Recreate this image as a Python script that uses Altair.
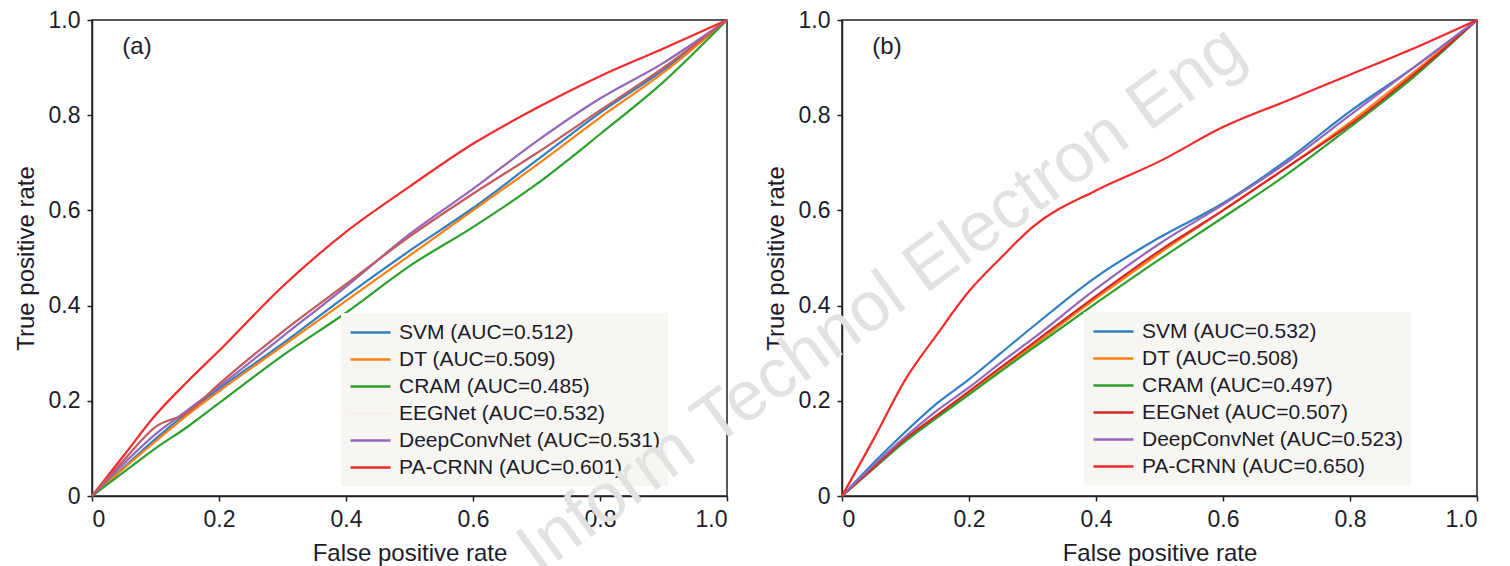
import altair as alt
import pandas as pd

# ---------------- data ----------------
MODELS = ["SVM", "DT", "CRAM", "EEGNet", "DeepConvNet", "PA-CRNN"]
AUC_A = ["0.512", "0.509", "0.485", "0.532", "0.531", "0.601"]
AUC_B = ["0.532", "0.508", "0.497", "0.507", "0.523", "0.650"]

TICKS = [0, 0.2, 0.4, 0.6, 0.8, 1.0]

FPR_A = [0, 0.05, 0.1, 0.15, 0.2, 0.3, 0.4, 0.5, 0.6, 0.7, 0.8, 0.9, 1.0]
TPR_A_SVM = [0, 0.06, 0.12, 0.175, 0.225, 0.32, 0.42, 0.515, 0.605, 0.705, 0.805, 0.895, 1.0]
TPR_A_DT = [0, 0.058, 0.115, 0.17, 0.22, 0.315, 0.41, 0.505, 0.6, 0.695, 0.795, 0.89, 1.0]
TPR_A_CRAM = [0, 0.05, 0.1, 0.145, 0.195, 0.295, 0.385, 0.483, 0.565, 0.655, 0.76, 0.87, 1.0]
TPR_A_EEGNET = [0, 0.075, 0.145, 0.175, 0.235, 0.345, 0.445, 0.545, 0.635, 0.72, 0.81, 0.9, 1.0]
TPR_A_DCN = [0, 0.068, 0.13, 0.18, 0.23, 0.335, 0.44, 0.55, 0.645, 0.745, 0.835, 0.91, 1.0]
TPR_A_PACRNN = [0, 0.085, 0.17, 0.24, 0.305, 0.44, 0.555, 0.65, 0.74, 0.815, 0.882, 0.94, 1.0]

FPR_B = [0, 0.05, 0.1, 0.15, 0.2, 0.25, 0.3, 0.4, 0.5, 0.6, 0.7, 0.8, 0.9, 1.0]
TPR_B_SVM = [0, 0.07, 0.135, 0.195, 0.245, 0.3, 0.355, 0.46, 0.543, 0.615, 0.705, 0.808, 0.9, 1.0]
TPR_B_DT = [0, 0.06, 0.12, 0.17, 0.215, 0.265, 0.315, 0.415, 0.51, 0.6, 0.69, 0.785, 0.89, 1.0]
TPR_B_CRAM = [0, 0.058, 0.115, 0.165, 0.213, 0.262, 0.31, 0.405, 0.497, 0.585, 0.675, 0.775, 0.88, 1.0]
TPR_B_EEGNET = [0, 0.06, 0.12, 0.17, 0.22, 0.27, 0.32, 0.42, 0.515, 0.6, 0.69, 0.78, 0.885, 1.0]
TPR_B_DCN = [0, 0.065, 0.125, 0.18, 0.228, 0.28, 0.33, 0.435, 0.53, 0.612, 0.7, 0.8, 0.9, 1.0]
TPR_B_PACRNN = [0, 0.12, 0.245, 0.34, 0.43, 0.5, 0.565, 0.642, 0.703, 0.775, 0.83, 0.885, 0.94, 1.0]

COLORS_A = ["#2f7fc1", "#ff7f0e", "#2ca02c", "#f4eeee", "#9467bd", "#f42a2a"]
EEG_LINE_A = "#c25a5e"
COLORS_B = ["#2f7fc1", "#ff7f0e", "#2ca02c", "#d62728", "#9467bd", "#f42a2a"]

WATERMARK = "Inform Technol Electron Eng"

FONT = "Liberation Sans"
TEXT = "#1c1c2a"


def build_df(fpr, series, aucs):
    rows = []
    for m, auc, tpr in zip(MODELS, aucs, series):
        lab = f"{m} (AUC={auc})"
        for i, (x, y) in enumerate(zip(fpr, tpr)):
            rows.append({"fpr": x, "tpr": y, "model": lab, "order": i})
    return pd.DataFrame(rows)


def panel(df, aucs, colors, tag, legend_x, legend_y, eeg_line=None, watermark=False):
    labels = [f"{m} (AUC={a})" for m, a in zip(MODELS, aucs)]
    lab_expr = "datum.value == 0 ? '0' : format(datum.value, '.1f')"
    x = alt.X("fpr:Q", scale=alt.Scale(domain=[0, 1], nice=False),
              axis=alt.Axis(values=TICKS, labelExpr=lab_expr, title="False positive rate"))
    y = alt.Y("tpr:Q", scale=alt.Scale(domain=[0, 1], nice=False),
              axis=alt.Axis(values=TICKS, labelExpr=lab_expr, title="True positive rate"))
    color = alt.Color(
        "model:N",
        scale=alt.Scale(domain=labels, range=colors),
        sort=labels,
        legend=alt.Legend(
            title=None, orient="none", legendX=legend_x, legendY=legend_y,
            fillColor="#f8f6f3", padding=8,
            symbolType="M-1,0H3", symbolSize=400, symbolStrokeWidth=2.5,
            labelFontSize=21, labelFont=FONT, labelColor=TEXT,
            labelOffset=27, rowPadding=5, labelLimit=500,
        ),
    )
    base = alt.Chart(df)
    main = base
    if eeg_line is not None:
        main = base.transform_filter(alt.datum.model != labels[3])
    layers = [
        main.mark_line(strokeWidth=2.2, interpolate="monotone").encode(
            x=x, y=y, color=color, order="order:Q")
    ]
    if eeg_line is not None:
        layers.append(
            base.transform_filter(alt.datum.model == labels[3])
            .mark_line(strokeWidth=2.2, interpolate="monotone", color=eeg_line)
            .encode(x="fpr:Q", y="tpr:Q", order="order:Q")
        )
    layers.append(
        alt.Chart(pd.DataFrame({"tag": [tag]})).mark_text(
            fontSize=24, font=FONT, color=TEXT, align="center", baseline="middle"
        ).encode(text="tag:N", x=alt.value(45), y=alt.value(27))
    )
    if watermark:
        layers.append(
            alt.Chart(pd.DataFrame({"wm": [WATERMARK]})).mark_text(
                fontSize=70, font=FONT, color="#e2e2e2", angle=324,
                align="center", baseline="alphabetic"
            ).encode(text="wm:N", x=alt.value(52), y=alt.value(297))
        )
    return alt.layer(*layers).properties(width=635, height=476)


df_a = build_df(FPR_A, [TPR_A_SVM, TPR_A_DT, TPR_A_CRAM, TPR_A_EEGNET, TPR_A_DCN, TPR_A_PACRNN], AUC_A)
df_b = build_df(FPR_B, [TPR_B_SVM, TPR_B_DT, TPR_B_CRAM, TPR_B_EEGNET, TPR_B_DCN, TPR_B_PACRNN], AUC_B)

pa = panel(df_a, AUC_A, COLORS_A, "(a)", 249, 293, eeg_line=EEG_LINE_A)
pb = panel(df_b, AUC_B, COLORS_B, "(b)", 242, 292, watermark=True)

chart = (
    alt.hconcat(pa, pb, spacing=115, bounds="flush")
    .resolve_scale(color="independent")
    .properties(padding={"left": 5, "right": 5, "top": 0, "bottom": 0}, background="white")
    .configure_view(stroke="#222222", strokeWidth=1.5)
    .configure_axis(
        grid=False, domainColor="#222222", domainWidth=1.5,
        tickColor="#222222", tickSize=5, tickWidth=1.5,
        labelFont=FONT, labelFontSize=23, labelColor=TEXT, labelPadding=7,
        titleFont=FONT, titleFontSize=24, titleFontWeight="normal", titleColor=TEXT,
        titlePadding=10,
    )
)

chart.save("out.html", embed_options={"renderer": "svg", "actions": False})
